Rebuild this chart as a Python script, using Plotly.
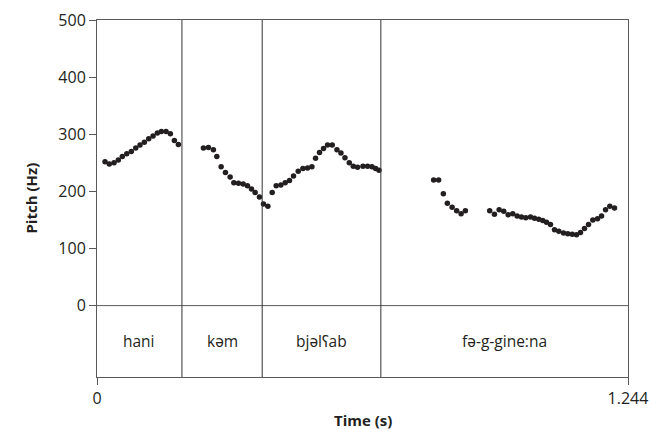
import plotly.graph_objects as go

# Pitch track (time in s, pitch in Hz)
hani_t = [0.0188, 0.0288, 0.0399, 0.0500, 0.0593, 0.0697, 0.0804, 0.0908, 0.1008, 0.1109,
          0.1212, 0.1313, 0.1414, 0.1508, 0.1618, 0.1719, 0.1813, 0.1907]
hani_f = [252, 248, 250, 255, 261, 266, 270, 276, 281, 286,
          292, 297, 302, 305, 305, 301, 289, 282]

kam_t = [0.2493, 0.2610, 0.2727, 0.2807, 0.2908, 0.3009, 0.3119, 0.3206, 0.3314, 0.3424,
         0.3525, 0.3619, 0.3705, 0.3806, 0.3900, 0.4003]
kam_f = [276, 277, 273, 261, 243, 233, 225, 215, 214, 213,
         210, 204, 198, 190, 178, 174]

bjal_t = [0.4104, 0.4198, 0.4308, 0.4409, 0.4510, 0.4604, 0.4714, 0.4824, 0.4932, 0.5035,
          0.5120, 0.5213, 0.5307, 0.5401, 0.5511, 0.5621, 0.5715, 0.5809, 0.5910, 0.6004,
          0.6105, 0.6231, 0.6339, 0.6442, 0.6527, 0.6606]
bjal_f = [198, 210, 211, 215, 219, 227, 235, 240, 241, 243,
          258, 268, 275, 281, 281, 273, 267, 259, 250, 244,
          242, 244, 244, 243, 240, 237]

fa_t = [0.7887, 0.8004, 0.8114, 0.8208, 0.8319, 0.8426, 0.8530, 0.8630, 0.9200, 0.9311,
        0.9421, 0.9529, 0.9632, 0.9740, 0.9843, 0.9944, 1.0045, 1.0155, 1.0249, 1.0349,
        1.0443, 1.0530, 1.0624, 1.0718, 1.0818, 1.0929, 1.1030, 1.1133, 1.1234, 1.1327,
        1.1421, 1.1515, 1.1616, 1.1726, 1.1820, 1.1914, 1.2014, 1.2124]
fa_f = [220, 220, 196, 179, 172, 166, 161, 166, 166, 160,
        168, 165, 159, 161, 157, 155, 154, 155, 153, 151,
        149, 146, 142, 133, 130, 127, 126, 125, 124, 128,
        135, 142, 150, 152, 157, 168, 174, 171]

# Word intervals
boundaries = [0.0, 0.199, 0.387, 0.665, 1.244]
words = ["hani", "kəm", "bjəlʕab", "fə-g-gine:na"]

y_min, y_max = -125, 500
y_ticks = [0, 100, 200, 300, 400, 500]
x_ticks = [0, 1.244]
x_ticklabels = ["0", "1.244"]

font_family = "Open Sans, Noto Sans, sans-serif"
text_color = "#231f20"
dot_color = "#231f20"
frame_color = "#5a5a5a"

fig = go.Figure()
times = hani_t + kam_t + bjal_t + fa_t
freqs = hani_f + kam_f + bjal_f + fa_f
fig.add_trace(go.Scatter(x=times, y=freqs, mode="markers",
                         marker=dict(size=5.5, color=dot_color),
                         showlegend=False, hoverinfo="x+y"))

# horizontal separator at 0
fig.add_shape(type="line", xref="x", yref="y", x0=boundaries[0], x1=boundaries[-1],
              y0=0, y1=0, line=dict(color=frame_color, width=1))
# interior boundaries
for b in boundaries[1:-1]:
    fig.add_shape(type="line", xref="x", yref="y", x0=b, x1=b, y0=y_min, y1=y_max,
                  line=dict(color="#333333", width=1))

# word labels
for i, w in enumerate(words):
    fig.add_annotation(x=(boundaries[i] + boundaries[i + 1]) / 2, y=y_min / 2,
                       text=w, showarrow=False, xref="x", yref="y",
                       font=dict(family=font_family, size=15.5, color=text_color))

# axis titles
fig.add_annotation(x=0.5, y=-0.12, xref="paper", yref="paper", text="<b>Time (s)</b>",
                   showarrow=False, xanchor="center", yanchor="middle",
                   font=dict(family=font_family, size=15, color=text_color))
fig.add_annotation(x=-0.126, y=0.5, xref="paper", yref="paper", text="<b>Pitch (Hz)</b>",
                   showarrow=False, xanchor="center", yanchor="middle", textangle=-90,
                   font=dict(family=font_family, size=15, color=text_color))

fig.update_xaxes(range=[0, 1.244], tickvals=x_ticks, ticktext=x_ticklabels,
                 ticks="outside", ticklen=7, tickcolor=frame_color, automargin=False,
                 showline=True, linecolor=frame_color, linewidth=1, mirror=True,
                 showgrid=False, zeroline=False,
                 tickfont=dict(family=font_family, size=16, color=text_color))
fig.update_yaxes(range=[y_min, y_max], tickvals=y_ticks,
                 ticks="outside", ticklen=7, tickcolor=frame_color, automargin=False,
                 showline=True, linecolor=frame_color, linewidth=1, mirror=True,
                 showgrid=False, zeroline=False,
                 tickfont=dict(family=font_family, size=16, color=text_color))

fig.update_layout(width=650, height=429,
                  margin=dict(l=97, r=22, t=20, b=52),
                  paper_bgcolor="white", plot_bgcolor="white",
                  font=dict(family=font_family))

fig.write_html("out.html",
               config={"displayModeBar": False},
               post_script="document.body.style.margin='0';document.body.style.overflow='hidden';")
